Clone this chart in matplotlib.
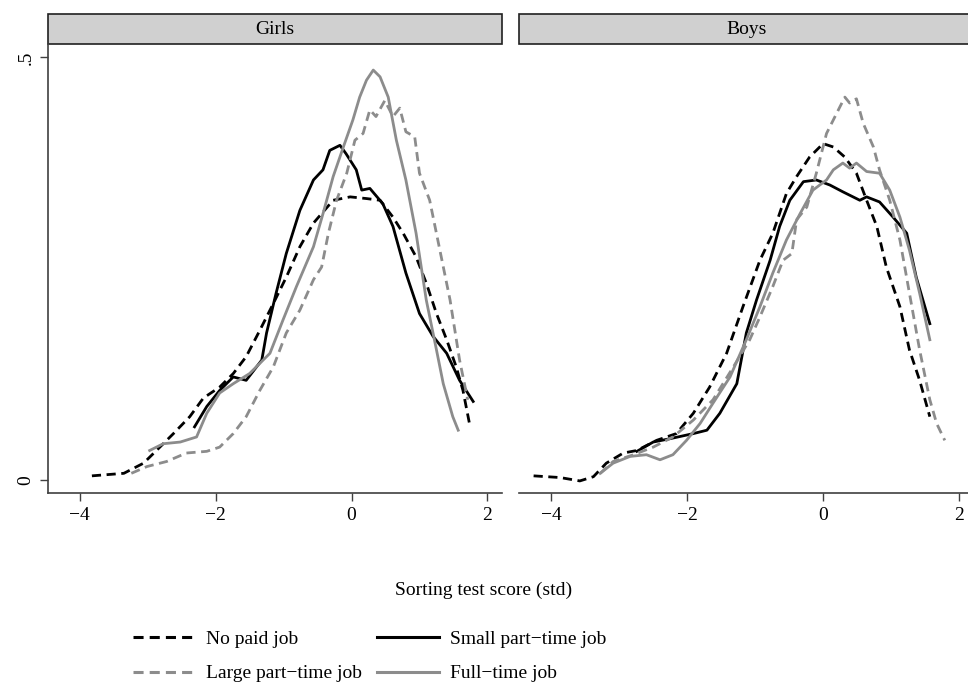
import matplotlib
matplotlib.use("Agg")
import matplotlib.pyplot as plt
from matplotlib.patches import Rectangle
from matplotlib.lines import Line2D

plt.rcParams['font.family'] = ['Liberation Serif', 'DejaVu Serif']
plt.rcParams['font.size'] = 14

# Datos (densidades por grupo)
girls_nopaid_x = [-3.82, -3.35, -3.06, -2.87, -2.62, -2.38, -2.18, -1.94, -1.74, -1.55, -1.35, -1.15, -0.96, -0.76, -0.56, -0.27, -0.02, 0.22, 0.42, 0.61, 0.76, 0.95, 1.10, 1.25, 1.40, 1.54, 1.64, 1.74]
girls_nopaid_y = [0.005, 0.008, 0.020, 0.035, 0.055, 0.075, 0.097, 0.110, 0.126, 0.146, 0.177, 0.209, 0.240, 0.276, 0.304, 0.331, 0.335, 0.333, 0.331, 0.311, 0.292, 0.264, 0.233, 0.197, 0.166, 0.134, 0.106, 0.065]

girls_small_x = [-2.31, -2.13, -1.94, -1.74, -1.55, -1.32, -1.25, -1.11, -0.96, -0.76, -0.56, -0.42, -0.32, -0.17, -0.08, 0.07, 0.15, 0.27, 0.46, 0.61, 0.80, 1.00, 1.20, 1.40, 1.59, 1.79]
girls_small_y = [0.063, 0.087, 0.106, 0.122, 0.118, 0.142, 0.174, 0.221, 0.268, 0.319, 0.355, 0.367, 0.390, 0.396, 0.386, 0.367, 0.343, 0.345, 0.327, 0.300, 0.245, 0.197, 0.170, 0.150, 0.118, 0.093]

girls_large_x = [-3.24, -3.01, -2.72, -2.43, -2.13, -1.94, -1.74, -1.55, -1.35, -1.15, -0.96, -0.76, -0.56, -0.44, -0.34, -0.22, -0.07, 0.05, 0.17, 0.27, 0.36, 0.49, 0.61, 0.71, 0.80, 0.93, 1.00, 1.15, 1.30, 1.45, 1.59, 1.71]
girls_large_y = [0.008, 0.016, 0.022, 0.032, 0.034, 0.039, 0.055, 0.075, 0.106, 0.134, 0.174, 0.201, 0.237, 0.252, 0.292, 0.331, 0.363, 0.402, 0.410, 0.438, 0.430, 0.449, 0.430, 0.440, 0.412, 0.406, 0.363, 0.331, 0.272, 0.213, 0.142, 0.095]

girls_full_x = [-2.97, -2.77, -2.52, -2.28, -2.13, -1.94, -1.74, -1.50, -1.20, -1.01, -0.81, -0.56, -0.42, -0.27, -0.12, 0.02, 0.12, 0.22, 0.32, 0.42, 0.54, 0.66, 0.80, 0.95, 1.10, 1.25, 1.35, 1.49, 1.57]
girls_full_y = [0.035, 0.043, 0.045, 0.051, 0.079, 0.103, 0.114, 0.126, 0.150, 0.189, 0.229, 0.276, 0.315, 0.359, 0.394, 0.426, 0.453, 0.473, 0.485, 0.477, 0.453, 0.402, 0.355, 0.292, 0.213, 0.154, 0.114, 0.075, 0.059]

boys_nopaid_x = [-4.26, -3.87, -3.58, -3.38, -3.19, -2.94, -2.74, -2.45, -2.16, -1.91, -1.67, -1.42, -1.18, -0.93, -0.74, -0.54, -0.39, -0.20, 0.00, 0.15, 0.32, 0.49, 0.64, 0.79, 0.93, 1.13, 1.27, 1.42, 1.57]
boys_nopaid_y = [0.005, 0.003, -0.001, 0.004, 0.020, 0.032, 0.035, 0.047, 0.055, 0.079, 0.110, 0.150, 0.205, 0.260, 0.292, 0.339, 0.359, 0.382, 0.398, 0.394, 0.382, 0.363, 0.331, 0.300, 0.252, 0.205, 0.154, 0.118, 0.075]

boys_small_x = [-2.74, -2.50, -2.25, -1.91, -1.71, -1.52, -1.27, -1.13, -0.98, -0.78, -0.64, -0.49, -0.29, -0.10, 0.10, 0.29, 0.54, 0.64, 0.83, 1.03, 1.23, 1.37, 1.57]
boys_small_y = [0.034, 0.045, 0.049, 0.055, 0.059, 0.079, 0.114, 0.174, 0.213, 0.260, 0.300, 0.331, 0.353, 0.355, 0.349, 0.341, 0.331, 0.335, 0.329, 0.311, 0.292, 0.240, 0.185]

boys_large_x = [-3.28, -3.09, -2.79, -2.50, -2.21, -1.91, -1.62, -1.32, -1.08, -0.93, -0.74, -0.59, -0.46, -0.39, -0.24, -0.10, 0.05, 0.15, 0.25, 0.32, 0.39, 0.49, 0.59, 0.74, 0.83, 0.98, 1.13, 1.27, 1.42, 1.57, 1.67, 1.79]
boys_large_y = [0.008, 0.022, 0.030, 0.039, 0.051, 0.071, 0.095, 0.134, 0.166, 0.193, 0.229, 0.260, 0.268, 0.308, 0.323, 0.363, 0.410, 0.426, 0.442, 0.453, 0.446, 0.451, 0.422, 0.394, 0.367, 0.331, 0.284, 0.221, 0.154, 0.095, 0.067, 0.047]

boys_full_x = [-3.28, -3.09, -2.84, -2.60, -2.40, -2.21, -2.01, -1.81, -1.62, -1.37, -1.13, -0.93, -0.74, -0.54, -0.34, -0.15, 0.05, 0.15, 0.29, 0.39, 0.49, 0.64, 0.83, 0.98, 1.13, 1.27, 1.42, 1.57]
boys_full_y = [0.008, 0.020, 0.028, 0.030, 0.024, 0.030, 0.047, 0.067, 0.091, 0.122, 0.166, 0.205, 0.245, 0.284, 0.315, 0.343, 0.355, 0.367, 0.375, 0.369, 0.375, 0.365, 0.363, 0.343, 0.311, 0.272, 0.221, 0.166]

labels = ["No paid job", "Small part−time job", "Large part−time job", "Full−time job"]
panels = ["Girls", "Boys"]

gris = "#8c8c8c"
dash = (0, (3.3, 2.0))
estilos = [("black", dash), ("black", "-"), (gris, dash), (gris, "-")]

datos = {
    "Girls": [(girls_nopaid_x, girls_nopaid_y), (girls_small_x, girls_small_y),
              (girls_large_x, girls_large_y), (girls_full_x, girls_full_y)],
    "Boys": [(boys_nopaid_x, boys_nopaid_y), (boys_small_x, boys_small_y),
             (boys_large_x, boys_large_y), (boys_full_x, boys_full_y)],
}

fig = plt.figure(figsize=(9.68, 6.90), dpi=100)
ax1 = fig.add_axes([0.0493, 0.285, 0.469, 0.6507])
ax2 = fig.add_axes([0.5365, 0.285, 0.469, 0.6507])

for ax, nombre in zip([ax1, ax2], panels):
    for (xs, ys), (c, ls) in zip(datos[nombre], estilos):
        ax.plot(xs, ys, color=c, linestyle=ls, linewidth=2.0)
    ax.set_xlim(-4.47, 2.21)
    ax.set_ylim(-0.0157, 0.5154)
    ax.set_xticks([-4, -2, 0, 2])
    for s in ["top", "right"]:
        ax.spines[s].set_visible(False)
    ax.spines["bottom"].set_color("#404040")
    ax.spines["left"].set_color("#404040")
    ax.spines["bottom"].set_linewidth(1.2)
    ax.spines["left"].set_linewidth(1.2)
    ax.tick_params(direction="out", length=6, width=1, color="#404040", labelsize=14)
    # franja con el título del panel
    ax.add_patch(Rectangle((0, 1.0), 1, 0.0668, transform=ax.transAxes,
                           facecolor="#d0d0d0", edgecolor="#202020", lw=1.2, clip_on=False))
    ax.text(0.5, 1.034, nombre, transform=ax.transAxes, ha="center", va="center", fontsize=14)

ax1.set_yticks([0, 0.5])
ax1.set_yticklabels(["0", ".5"], rotation=90, va="center")
ax2.spines["left"].set_visible(False)
ax2.set_yticks([])

fig.text(0.5, 0.145, "Sorting test score (std)", ha="center", va="center", fontsize=14)

# leyenda en dos columnas: fila 1 = No paid / Small, fila 2 = Large / Full
handles = [Line2D([], [], color=c, linestyle=ls, linewidth=2.2) for c, ls in estilos]
orden = [0, 2, 1, 3]
fig.legend([handles[i] for i in orden], [labels[i] for i in orden], ncol=2,
           loc="center left", bbox_to_anchor=(0.127, 0.0485),
           frameon=False, borderpad=0, handlelength=3.2, handletextpad=0.55,
           columnspacing=0.8, labelspacing=0.85, fontsize=14)

fig.savefig("out.png", dpi=100)
